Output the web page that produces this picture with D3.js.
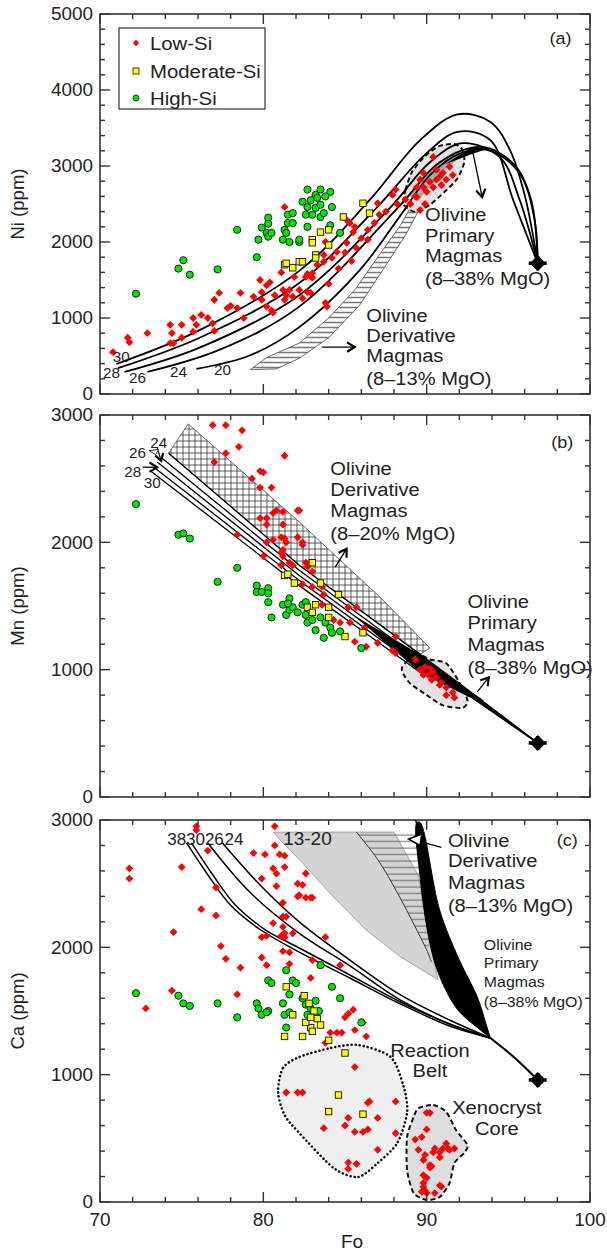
<!DOCTYPE html>
<html><head><meta charset="utf-8">
<script src="https://cdn.jsdelivr.net/npm/d3@7"></script>
<style>body{margin:0;background:#fff}svg{display:block}text{font-family:"Liberation Sans",Arial,sans-serif;fill:#222}</style>
</head><body><svg id="c" width="607" height="1254"></svg>
<script>
// ---------------- DATA ----------------
const foTicks=[70,80,90,100];
const niTicks=[0,1000,2000,3000,4000,5000];
const mnTicks=[0,1000,2000,3000];
const caTicks=[0,1000,2000,3000];
const legendLabels=["Low-Si","Moderate-Si","High-Si"];

// Panel (a) Ni vs Fo
const niLowSi=[[70.8,550],[71.7,740],[71.8,680],[72.9,800],[74.3,910],[74.4,800],[74.3,670],[74.5,670],[75.0,910],[75.0,740],[75.7,1000],[75.9,910],[75.7,820],[76.2,1040],[76.6,1000],[77.0,1240],[77.3,1330],[76.9,930],[77.0,830],[77.8,1130],[78.0,1160],[78.4,1130],[78.6,1330],[78.8,1000],[79.4,1280],[79.8,1500],[79.9,1340],[79.9,1240],[80.2,1430],[80.4,1470],[80.2,1150],[80.5,1100],[80.6,1070],[80.7,1300],[81.2,1370],[81.3,1240],[81.4,1300],[81.6,1370],[81.8,1280],[81.9,1540],[81.3,2460],[81.1,1600],
[87.0,2510],[87.1,2360],[85.1,2290],[85.3,2250],[85.6,2200],[85.5,2130],[85.1,1990],[85.7,1920],[86.4,2160],[86.4,2030],[85.0,1860],[84.5,1870],[84.2,1790],[83.7,1740],[83.8,2000],[83.7,1830],[83.3,1700],[83.0,1590],[82.7,1580],[82.6,1540],[83.0,1530],[82.2,1370],[82.7,1340],[82.9,1330],[83.8,1200],[83.9,1150],[82.4,1260],[86.8,2250],[87.5,2400],[86.0,2050],[84.6,1650],[84.0,1450],[85.4,1750],
[90.4,3120],[89.8,2910],[90.6,2950],[91.0,2910],[91.4,2990],[91.6,2880],[90.2,2790],[89.8,2720],[90.0,2660],[90.6,2820],[90.8,2860],[89.4,2590],[88.1,2690],[87.9,2620],[91.2,2820],[90.4,2720],[89.6,2820],[90.9,2750],[89.4,2720],[88.2,2500],[88.7,2560],[89.0,2500],[89.3,2600],[89.6,2420],[89.9,2500]];
const niModSi=[[81.3,1700],[81.4,1720],[81.8,1660],[82.2,1740],[82.4,1740],[83.0,2030],[83.0,1990],[83.2,1830],[83.2,1790],[83.5,2130],[84.0,2160],[84.0,1960],[84.9,2330],[86.1,2510],[86.5,2380]];
const niHighSi=[[72.2,1320],[74.8,1650],[75.1,1760],[75.5,1570],[77.2,1640],[78.4,2160],[79.6,1800],[79.7,2030],[79.9,2190],[80.2,2120],[80.3,2320],[80.3,2240],[80.3,2070],[80.5,2120],[81.2,2030],[81.3,2160],[81.4,2120],[81.5,2360],[81.8,2380],[81.5,2250],[81.8,2250],[81.6,2000],[82.2,2000],[82.4,2530],[82.7,2460],[83.2,2450],[83.5,2490],[84.2,2460],[82.6,2360],[83.0,2360],[83.5,2330],[83.7,2380],[84.1,2220],[84.7,2120],[82.7,2200],[82.2,2030],[82.7,2690],[83.2,2620],[83.5,2690],[84.1,2660],[82.9,2550],[83.3,2580],[83.8,2600]];
const niCurveLabels=["30","28","26","24","20"];
const niCurves=[
 [[71.0,395],[76.1,840],[82.2,1620],[86.5,2550],[89.6,3340],[91.9,3680],[93.9,3580],[95.1,3210],[96.0,2620],[96.8,1720]],
 [[71.1,340],[76.1,740],[82.2,1460],[87.1,2490],[89.9,3150],[91.9,3450],[93.9,3340],[95.3,2550],[96.8,1720]],
 [[71.5,290],[76.1,610],[82.2,1300],[87.8,2460],[90.2,3050],[92.2,3300],[94.5,3110],[95.7,2550],[96.8,1720]],
 [[72.9,290],[77.3,580],[82.2,1150],[88.4,2490],[90.8,3050],[93.4,3250],[95.4,3010],[96.4,2550],[96.8,1720]],
 [[75.9,330],[79.2,510],[82.2,880],[85.9,1630],[88.4,2350],[90.2,2880],[92.0,3160],[93.9,3200],[95.7,2900],[96.6,2300],[96.8,1720]]];
const niLabelPos=[[71.3,487],[70.7,276],[72.3,211],[74.8,290],[77.5,316]];
const niBandLeft=[[79.2,320],[80.2,480],[82.2,670],[84.0,1000],[85.6,1370],[87.1,1830],[88.4,2220],[89.1,2490]];
const niBandRight=[[80.8,330],[82.2,470],[84.0,740],[85.9,1170],[87.4,1660],[88.7,2090],[89.6,2450]];
const niPrimaryField=[[88.6,2490],[88.7,2685],[89.1,2920],[89.9,3130],[90.8,3265],[91.7,3290],[92.2,3210],[92.3,3050],[91.9,2840],[91.1,2660],[90.2,2490],[89.3,2395]];
const niInnerStrip=[[89.0,2620],[90.2,2950],[91.7,3190],[92.2,3150],[90.8,2880],[89.6,2580]];
const niWedge=[[91.1,3020],[92.7,3240],[93.9,3240],[92.7,3150]];
const niParent=[96.8,1720];

// Panel (b) Mn vs Fo
const mnLowSi=[[76.9,2920],[77.7,2920],[78.7,2880],[78.5,2750],[77.7,2700],[77.0,2630],[81.3,2680],[79.8,2560],[80.0,2550],[79.3,2500],[79.8,2430],[80.5,2430],[80.6,2230],[80.8,2250],[81.2,2240],[79.8,2190],[80.2,2190],[80.2,2140],[81.2,2140],[78.4,2060],[80.2,2000],[80.6,2020],[81.1,2040],[81.3,2030],[81.4,2000],[81.2,1940],[81.1,1920],[81.2,1890],[80.0,1890],[81.1,1820],[81.6,1840],[81.8,1820],[82.1,2250],[82.1,2040],
[82.2,2250],[82.4,2000],[82.4,1980],[82.6,1840],[82.7,1810],[83.0,1770],[82.4,1670],[83.0,1650],[83.6,1650],[83.7,1590],
[83.6,1510],[84.3,1390],[84.7,1370],[85.3,1370],[85.2,1490],[85.7,1490],[85.6,1220],[86.2,1330],[86.3,1180],[87.0,1210],[87.9,1150],[88.1,1130],[88.1,1260],
[89.3,1080],[89.6,1000],[89.9,1020],[90.2,1010],[90.4,980],[89.8,960],[90.1,960],[90.6,940],[90.9,900],[90.8,880],[91.2,860],[91.6,820],[91.7,780],[91.2,800],[90.3,920]];
const mnModSi=[[81.3,1740],[81.5,1750],[81.9,1680],[82.7,1490],[83.2,1510],[84.0,1490],[84.0,1410],[85.0,1260],[86.1,1290],[83.0,1450],[83.0,1840],[83.5,1680],[84.6,1590]];
const mnHighSi=[[72.2,2300],[74.8,2060],[75.1,2070],[75.5,2030],[78.4,1800],[77.2,1690],[79.6,1660],[79.6,1610],[79.9,1610],[80.3,1640],[80.3,1600],[81.6,1560],[80.3,1530],[80.5,1410],[81.2,1510],[81.4,1430],[81.6,1470],[81.8,1490],[82.1,1450],[81.5,1520],[82.4,1510],[82.6,1430],[82.7,1370],[83.0,1390],[83.5,1410],[83.8,1370],[84.1,1330],[83.2,1310],[83.7,1250],[84.2,1290],[84.7,1300],[86.0,1170],[82.6,1530]];
const mnCurveLabels=["24","26","28","30"];
const mnLabelPos=[[73.6,2780],[72.3,2700],[72.0,2550],[73.2,2466]];
const mnCurves=[
 [[74.2,2700],[82.2,1820],[89.6,1120],[92.7,825],[96.8,424]],
 [[73.8,2660],[82.2,1780],[89.6,1080],[92.7,815],[96.8,424]],
 [[73.5,2630],[82.2,1740],[89.6,1045],[92.7,805],[96.8,424]],
 [[73.3,2590],[82.2,1700],[89.6,1010],[92.7,795],[96.8,424]],
 [[73.1,2560],[82.2,1660],[89.6,980],[92.7,785],[96.8,424]]];
const mnBlackBand=[[85.5,1430],[89.6,1120],[92.7,825],[93.5,760],[92.7,785],[89.6,980]];
const mnDerivField=[[74.2,2700],[75.4,2930],[82.2,2160],[87.3,1550],[90.2,1170],[89.6,1120],[82.2,1820]];
const mnPrimaryField=[[88.5,1020],[89.3,1130],[90.2,1080],[91.2,1050],[92.0,900],[92.5,760],[92.2,700],[91.0,720],[90.0,800],[89.0,890],[88.6,960]];
const mnGreyWedge=[[89.1,1013],[89.9,1076],[91.7,919],[92.2,840]];
const mnParent=[96.8,424];

// Panel (c) Ca vs Fo
const caLowSi=[[71.8,2620],[71.8,2540],[75.0,2630],[75.9,2920],[75.9,2950],[76.6,2760],[77.1,2470],[76.2,2300],[77.1,2250],[74.5,2120],[77.4,2010],[77.7,1910],[78.6,1840],[74.4,1660],[78.4,1630],[72.8,1520],[79.4,2740],[80.1,2730],[79.9,2540],[80.7,2800],[80.7,2950],[81.0,2730],[81.3,2720],[80.8,2580],[80.6,2620],[81.3,2630],[80.8,2480],[81.2,2350],[81.4,2240],[81.2,2240],[80.6,2190],[81.2,2160],[81.3,2110],[81.8,2110],[81.1,2090],[79.9,2080],[80.2,2090],[81.3,2080],[81.2,1970],[81.6,1960],[79.9,1920],[80.2,1860],[81.6,1870],[82.1,2500],[82.1,2400],
[82.6,2580],[82.4,2490],[82.2,2410],[82.6,2390],[82.9,2390],[83.0,2390],[83.8,2080],[83.0,1900],[84.7,1860],[82.9,1760],[85.5,1510],[85.2,1480],[85.0,1450],[86.1,1410],
[83.8,1250],[84.1,1330],[84.5,1330],[84.8,1330],[85.6,1350],[86.3,1300],[85.6,1060],
[82.4,860],[86.5,790],[86.4,780],[88.1,790],[85.2,660],[87.0,660],[85.0,600],[83.7,580],[85.6,550],[86.1,550],[86.4,570],[88.1,540],[87.0,410],[85.2,310],[85.7,300],[85.2,260],[81.4,860],[82.1,860],
[90.0,700],[90.2,700],[90.0,570],[89.3,490],[89.7,510],[89.5,410],[89.9,370],[89.8,330],[90.2,290],[90.3,280],[90.2,270],[90.5,420],[90.4,390],[90.8,390],[91.0,420],[91.2,460],[91.4,410],[91.7,420],[90.8,350],[91.3,420],[89.8,210],[90.0,190],[89.8,150],[89.9,90],[89.7,80],[90.8,130],[90.9,120],[90.5,70],[90.0,70],[89.8,120]];
const caModSi=[[81.4,1690],[81.8,1470],[82.4,1300],[82.9,1370],[83.0,1340],[84.0,1270],[85.0,1170],[84.6,840],[84.0,710],[86.1,690],[81.3,1300],[82.5,1620],[82.8,1560],[83.1,1500],[83.3,1440],[82.6,1410],[83.5,1390],[82.9,1450]];
const caHighSi=[[72.2,1640],[74.8,1620],[75.1,1560],[75.5,1540],[77.2,1560],[78.4,1450],[79.6,1560],[79.7,1520],[79.9,1470],[80.3,1500],[80.2,1490],[81.2,1560],[81.4,1820],[80.3,1740],[80.5,1720],[81.8,1740],[82.0,1720],[81.6,1630],[81.3,1470],[81.6,1490],[81.4,1370],[83.5,1860],[84.2,1690],[84.7,1600],[86.0,1410],[82.4,1600],[82.6,1550],[82.9,1520],[83.2,1580],[83.4,1500],[82.7,1470]];
const caCurveLabels=["38","30","26","24"];
const caLabelPos=[[74.7,2843],[75.85,2843],[77.0,2843],[78.2,2843]];
const caCurves=[
 [[75.3,2820],[76.6,2570],[78.0,2330],[79.8,2140],[82.2,1963],[85.3,1759],[88.4,1555],[91.4,1382],[93.9,1288]],
 [[75.6,2820],[76.9,2570],[78.3,2330],[80.1,2140],[82.2,1995],[85.3,1783],[88.4,1571],[91.4,1398],[93.9,1288]],
 [[76.6,2820],[79.2,2430],[82.2,2110],[85.3,1855],[88.4,1586],[91.4,1398],[93.9,1288]],
 [[77.5,2820],[79.8,2490],[82.2,2200],[85.3,1900],[88.4,1626],[91.4,1429],[93.9,1288]]];
const caTail=[[93.9,1288],[95.4,1131],[96.8,958]];
const caWedgeLeft=[[89.4,2980],[89.6,2550],[90.2,2030],[90.8,1770],[91.9,1510],[93.1,1370],[93.9,1290]];
const caWedgeRight=[[89.6,2980],[90.8,2290],[92.0,1900],[93.1,1610],[93.7,1370],[93.9,1290]];
const caGreyField=[[80.6,2905],[88.0,2905],[89.5,2560],[90.2,2030],[90.7,1745],[88.4,1925],[86.3,2135],[84.3,2395],[82.2,2690],[81.3,2805]];
const caHatchField=[[85.7,2905],[89.4,2905],[89.6,2550],[90.0,2200],[90.2,2030],[90.0,1980],[89.3,2160],[88.2,2430],[87.0,2690]];
const caHatchEdge=[[85.7,2905],[87.0,2690],[88.2,2430],[89.3,2160],[90.0,1980],[90.3,1885]];
const caReactionBelt=[[80.9,864],[81.2,1052],[82.2,1139],[84.1,1209],[85.8,1233],[87.8,1139],[88.6,903],[88.8,699],[88.2,463],[87.0,306],[85.8,196],[84.3,267],[82.2,542],[81.3,683]];
const caXenoCore=[[89.5,738],[90.4,762],[91.2,707],[91.8,565],[92.5,448],[92.3,385],[91.7,306],[91.4,149],[90.8,39],[90.0,16],[89.2,71],[88.8,251],[88.8,510],[89.2,667]];
const caParent=[96.8,958];

// ---------------- DRAWING ----------------
const svg=d3.select("#c");
const X0=100,X1=590;
const x=d3.scaleLinear().domain([70,100]).range([X0,X1]);
const panels=[
 {key:"a",dom:[0,5000],rng:[394,14],ticks:niTicks,title:"Ni (ppm)"},
 {key:"b",dom:[0,3000],rng:[797,415],ticks:mnTicks,title:"Mn (ppm)"},
 {key:"c",dom:[0,3000],rng:[1202,820],ticks:caTicks,title:"Ca (ppm)"}];
panels.forEach(p=>p.y=d3.scaleLinear().domain(p.dom).range(p.rng));

const defs=svg.append("defs");
panels.forEach(p=>defs.append("clipPath").attr("id","clip"+p.key).append("rect")
  .attr("x",X0).attr("y",p.rng[1]).attr("width",X1-X0).attr("height",p.rng[0]-p.rng[1]));
const ph=defs.append("pattern").attr("id","hatchA").attr("patternUnits","userSpaceOnUse").attr("width",8).attr("height",5);
ph.append("rect").attr("width",8).attr("height",5).attr("fill","#fff");
ph.append("line").attr("x1",0).attr("x2",8).attr("y1",2.5).attr("y2",2.5).attr("stroke","#777").attr("stroke-width",1.5);
const pc=defs.append("pattern").attr("id","cross").attr("patternUnits","userSpaceOnUse").attr("width",6).attr("height",6);
pc.append("rect").attr("width",6).attr("height",6).attr("fill","#fff");
pc.append("path").attr("d","M0,3H6M3,0V6").attr("stroke","#333").attr("stroke-width",0.8);
const pcH=defs.append("pattern").attr("id","hatchC").attr("patternUnits","userSpaceOnUse").attr("width",8).attr("height",6.5);
pcH.append("line").attr("x1",0).attr("x2",8).attr("y1",3).attr("y2",3).attr("stroke","#555").attr("stroke-width",0.9);

function T(g,px,py,str,o={}){
  const size=o.size||18,sx=o.sx||1.06,anchor=o.anchor||"start";
  const rot=o.rotate?" rotate(-90)":"";
  const t=g.append("text").attr("transform",`translate(${px},${py})${rot} scale(${sx},1)`)
    .attr("font-size",size).attr("text-anchor",anchor).attr("dominant-baseline","central").text(str);
  if(o.family)t.attr("font-family",o.family);
  return t;
}
function lineGen(p,curve){return d3.line().x(d=>x(d[0])).y(d=>p.y(d[1])).curve(curve||d3.curveCatmullRom.alpha(0.5));}
function poly(g,p,pts,attrs,curve){
  const path=g.append("path").attr("d",lineGen(p,curve||d3.curveLinearClosed)(pts));
  Object.entries(attrs).forEach(([k,v])=>path.attr(k,v));return path;
}
function diamond(g,cx,cy,r){return g.append("path").attr("d",`M${cx},${cy-r}L${cx+r},${cy}L${cx},${cy+r}L${cx-r},${cy}Z`).attr("fill","#ff0000");}
function drawPoints(g,p,low,mod,high){
  low.forEach(d=>diamond(g,x(d[0]),p.y(d[1]),3.9));
  high.forEach(d=>g.append("circle").attr("cx",x(d[0])).attr("cy",p.y(d[1])).attr("r",3.6).attr("fill","#00e600").attr("stroke","#111").attr("stroke-width",0.9));
  mod.forEach(d=>g.append("rect").attr("x",x(d[0])-3.2).attr("y",p.y(d[1])-3.2).attr("width",6.4).attr("height",6.4).attr("fill","#ffff00").attr("stroke","#111").attr("stroke-width",0.9));
}
function parent(g,p,d){
  const cx=x(d[0]),cy=p.y(d[1]);
  g.append("path").attr("d",`M${cx},${cy-8}L${cx+8},${cy}L${cx},${cy+8}L${cx-8},${cy}Z`).attr("fill","#000");
  g.append("path").attr("d",`M${cx-9},${cy}H${cx+9}M${cx},${cy-7}V${cy+7}`).attr("stroke","#000").attr("stroke-width",3.5);
}
function arrow(g,p,a,b,w,L){
  const x1=x(a[0]),y1=p.y(a[1]),x2=x(b[0]),y2=p.y(b[1]);
  g.append("line").attr("x1",x1).attr("y1",y1).attr("x2",x2).attr("y2",y2).attr("stroke","#000").attr("stroke-width",w||1.3);
  const ang=Math.atan2(y2-y1,x2-x1),s=0.55;L=L||9;
  const pA=[x2-L*Math.cos(ang-s),y2-L*Math.sin(ang-s)],pB=[x2-L*Math.cos(ang+s),y2-L*Math.sin(ang+s)];
  g.append("path").attr("d",`M${pA}L${x2},${y2}L${pB}`).attr("fill","none").attr("stroke","#000").attr("stroke-width",2.2);
}
function frame(g,p){
  const y0=p.rng[1],y1=p.rng[0];
  d3.range(70,100.01,2).forEach(v=>{
    const L=(v%10===0)?10:5;
    g.append("line").attr("x1",x(v)).attr("x2",x(v)).attr("y1",y1).attr("y2",y1-L).attr("stroke","#333").attr("stroke-width",1.4);
    g.append("line").attr("x1",x(v)).attr("x2",x(v)).attr("y1",y0).attr("y2",y0+L).attr("stroke","#333").attr("stroke-width",1.4);
  });
  d3.range(p.dom[0],p.dom[1]+1,200).forEach(v=>{
    const L=(v%1000===0)?10:5,yy=p.y(v);
    g.append("line").attr("x1",X0).attr("x2",X0+L).attr("y1",yy).attr("y2",yy).attr("stroke","#333").attr("stroke-width",1.4);
    g.append("line").attr("x1",X1-L).attr("x2",X1).attr("y1",yy).attr("y2",yy).attr("stroke","#333").attr("stroke-width",1.4);
  });
  g.append("rect").attr("x",X0).attr("y",y0).attr("width",X1-X0).attr("height",y1-y0).attr("fill","none").attr("stroke","#333").attr("stroke-width",1.6);
  p.ticks.forEach(v=>T(g,93,p.y(v),String(v),{size:18,anchor:"end",sx:1.05}));
  T(g,18,(y0+y1)/2,p.title,{size:18,anchor:"middle",rotate:true,sx:1.03});
}

// ---- panel a ----
(function(){
  const p=panels[0];const g=svg.append("g");const gc=g.append("g").attr("clip-path","url(#clipa)");
  poly(gc,p,niBandLeft.concat(niBandRight.slice().reverse()),{fill:"url(#hatchA)",stroke:"#444","stroke-width":0.8});
  poly(gc,p,niPrimaryField,{fill:"#e3e3e3",stroke:"#111","stroke-width":2,"stroke-dasharray":"5,3"},d3.curveCardinalClosed.tension(0.3));
  poly(gc,p,niInnerStrip,{fill:"#a8a8a8",stroke:"none"},d3.curveCardinalClosed.tension(0.4));
  niCurves.forEach(c=>gc.append("path").attr("d",lineGen(p)(c)).attr("fill","none").attr("stroke","#000").attr("stroke-width",1.8));
  poly(gc,p,niWedge,{fill:"#000"});
  drawPoints(gc,p,niLowSi,niModSi,niHighSi);
  parent(gc,p,niParent);
  arrow(g,p,[92.8,3210],[93.4,2590]);
  arrow(g,p,[83.6,618],[85.6,618]);
  niCurveLabels.forEach((l,i)=>T(g,x(niLabelPos[i][0]),p.y(niLabelPos[i][1]),l,{size:14.5,anchor:"middle",sx:1.05}));
  ["Olivine","Primary","Magmas","(8\u201338% MgO)"].forEach((s,i)=>T(g,x(89.9),p.y([2369,2092,1829,1527][i]),s,{size:19}));
  ["Olivine","Derivative","Magmas","(8\u201313% MgO)"].forEach((s,i)=>T(g,x(86.3),p.y([1040,776,513,211][i]),s,{size:19}));
  T(g,x(98.2),p.y(4685),"(a)",{size:17,anchor:"middle"});
  frame(g,p);
  const lg=g.append("g");
  lg.append("rect").attr("x",119).attr("y",28).attr("width",146).attr("height",81).attr("fill","#fff").attr("stroke","#333").attr("stroke-width",1.2);
  diamond(lg,136,43,3.2);
  lg.append("rect").attr("x",133).attr("y",68).attr("width",6).attr("height",6).attr("fill","#ffff00").attr("stroke","#111").attr("stroke-width",0.8);
  lg.append("circle").attr("cx",136).attr("cy",98).attr("r",3).attr("fill","#00e600").attr("stroke","#111").attr("stroke-width",0.8);
  legendLabels.forEach((l,i)=>T(lg,150,[43,71,98][i],l,{size:18.5,sx:1.1}));
})();

// ---- panel b ----
(function(){
  const p=panels[1];const g=svg.append("g");const gc=g.append("g").attr("clip-path","url(#clipb)");
  poly(gc,p,mnDerivField,{fill:"url(#cross)",stroke:"#444","stroke-width":0.8});
  poly(gc,p,mnPrimaryField,{fill:"#e3e3e3",stroke:"#111","stroke-width":2,"stroke-dasharray":"5,3"},d3.curveCardinalClosed.tension(0.3));
  poly(gc,p,mnGreyWedge,{fill:"#6a6a6a"});
  mnCurves.forEach(c=>gc.append("path").attr("d",lineGen(p,d3.curveLinear)(c)).attr("fill","none").attr("stroke","#000").attr("stroke-width",1.3));
  poly(gc,p,mnBlackBand,{fill:"#000"});
  drawPoints(gc,p,mnLowSi,mnModSi,mnHighSi);
  parent(gc,p,mnParent);
  arrow(g,p,[72.6,2590],[73.5,2590]);
  arrow(g,p,[73.5,2741],[73.75,2640],1.2,8);
  g.append("path").attr("d",`M${x(73.4)},${p.y(2690)}L${x(73.0)},${p.y(2720)}L${x(73.6)},${p.y(2730)}Z`).attr("fill","#fff").attr("stroke","#333");
  arrow(g,p,[84.4,1806],[85.1,1950]);
  arrow(g,p,[93.1,825],[93.8,940]);
  mnCurveLabels.forEach((l,i)=>T(g,x(mnLabelPos[i][0]),p.y(mnLabelPos[i][1]),l,{size:14.5,anchor:"middle",sx:1.05}));
  ["Olivine","Derivative","Magmas","(8\u201320% MgO)"].forEach((s,i)=>T(g,x(84.1),p.y([2584,2419,2254,2073][i]),s,{size:19}));
  ["Olivine","Primary","Magmas","(8\u201338% MgO)"].forEach((s,i)=>T(g,x(92.5),p.y([1539,1374,1201,1021][i]),s,{size:19}));
  T(g,x(98.3),p.y(2788),"(b)",{size:17,anchor:"middle"});
  frame(g,p);
})();

// ---- panel c ----
(function(){
  const p=panels[2];const g=svg.append("g");const gc=g.append("g").attr("clip-path","url(#clipc)");
  poly(gc,p,caGreyField,{fill:"#d4d4d4",stroke:"#888","stroke-width":0.7});
  poly(gc,p,caHatchField,{fill:"url(#hatchC)",stroke:"none"});
  gc.append("path").attr("d",lineGen(p)(caHatchEdge)).attr("fill","none").attr("stroke","#333").attr("stroke-width",1);
  poly(gc,p,caReactionBelt,{fill:"#efefef",stroke:"#111","stroke-width":2.6,"stroke-dasharray":"0.1,4","stroke-linecap":"round"},d3.curveCardinalClosed.tension(0.2));
  poly(gc,p,caXenoCore,{fill:"#dedede",stroke:"#111","stroke-width":2,"stroke-dasharray":"5,3"},d3.curveCardinalClosed.tension(0.3));
  caCurves.forEach(c=>gc.append("path").attr("d",lineGen(p)(c)).attr("fill","none").attr("stroke","#000").attr("stroke-width",1.5));
  gc.append("path").attr("d",lineGen(p)(caTail)).attr("fill","none").attr("stroke","#000").attr("stroke-width",2.2);
  poly(gc,p,caWedgeLeft.concat(caWedgeRight.slice().reverse()),{fill:"#000",stroke:"#000","stroke-width":1},d3.curveCatmullRomClosed);
  gc.append("line").attr("x1",x(89.3)).attr("y1",p.y(3000)).attr("x2",x(89.45)).attr("y2",p.y(2960)).attr("stroke","#000").attr("stroke-width",1.5);
  drawPoints(gc,p,caLowSi,caModSi,caHighSi);
  parent(gc,p,caParent);
  g.append("line").attr("x1",x(89.6)).attr("y1",p.y(2830)).attr("x2",x(90.9)).attr("y2",p.y(2785)).attr("stroke","#000").attr("stroke-width",1.3);
  g.append("path").attr("d",`M${x(88.9)},${p.y(2850)}L${x(89.7)},${p.y(2890)}L${x(89.6)},${p.y(2800)}Z`).attr("fill","#fff").attr("stroke","#000").attr("stroke-width",1.6);
  caCurveLabels.forEach((l,i)=>T(g,x(caLabelPos[i][0]),p.y(caLabelPos[i][1]),l,{size:17,anchor:"middle",sx:1,family:"Liberation Serif"}));
  T(g,x(82.7),p.y(2858),"13-20",{size:19,anchor:"middle",sx:1,family:"Liberation Serif"});
  ["Olivine","Derivative","Magmas","(8\u201313% MgO)"].forEach((s,i)=>T(g,x(91.3),p.y([2843,2686,2513,2332][i]),s,{size:19}));
  ["Olivine","Primary","Magmas","(8\u201338% MgO)"].forEach((s,i)=>T(g,x(93.5),p.y([2018,1877,1728,1571][i]),s,{size:15,sx:1.06}));
  T(g,x(90.2),p.y(1194),"Reaction",{size:19,anchor:"middle"});
  T(g,x(90.2),p.y(1037),"Belt",{size:19,anchor:"middle"});
  T(g,x(94.3),p.y(746),"Xenocryst",{size:19,anchor:"middle"});
  T(g,x(94.3),p.y(581),"Core",{size:19,anchor:"middle"});
  T(g,x(98.6),p.y(2843),"(c)",{size:17,anchor:"middle"});
  frame(g,p);
  foTicks.forEach(v=>T(g,x(v),1220,String(v),{size:18,anchor:"middle",sx:1.05}));
  T(g,352,1242,"Fo",{size:18,anchor:"middle"});
})();
</script></body></html>
